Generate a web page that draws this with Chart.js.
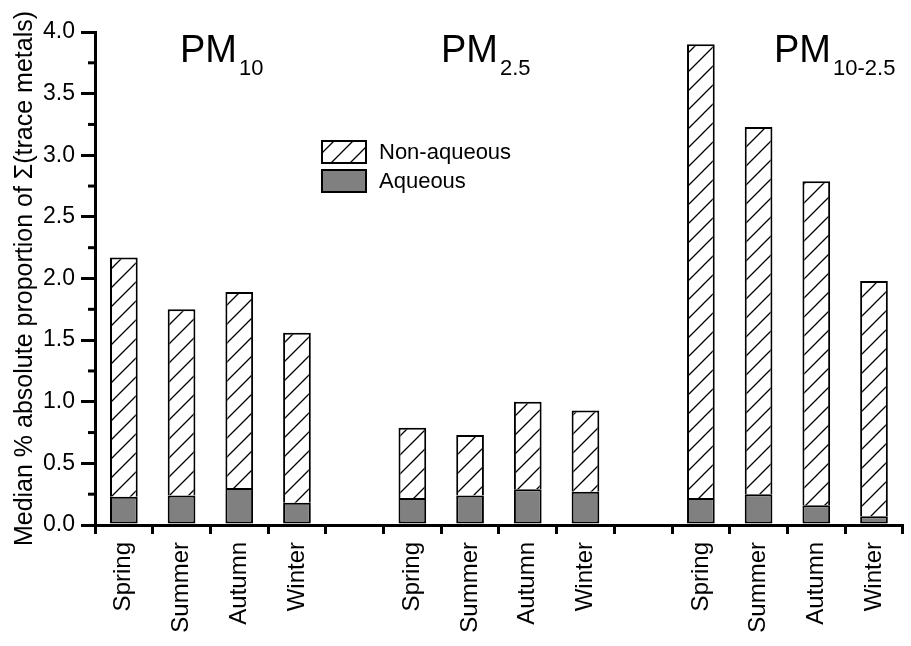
<!DOCTYPE html>
<html>
<head>
<meta charset="utf-8">
<script src="https://cdn.jsdelivr.net/npm/chart.js@4.4.1/dist/chart.umd.min.js"></script>
<style>
  html, body { margin: 0; padding: 0; background: #fff; }
</style>
</head>
<body>
<canvas id="chart" width="911" height="646"></canvas>
<script>
// categories: three size fractions, four seasons each, blank slot between groups
const seasons = ['Spring', 'Summer', 'Autumn', 'Winter'];
const labels = [...seasons, '', ...seasons, '', ...seasons];

// median % absolute proportion, segment values (stacked)
const aqueous    = [0.23, 0.24, 0.30, 0.18, null, 0.22, 0.24, 0.29, 0.27, null, 0.22, 0.25, 0.16, 0.07];
const nonAqueous = [1.94, 1.51, 1.59, 1.38, null, 0.57, 0.49, 0.71, 0.66, null, 3.68, 2.98, 2.63, 1.91];

const groupNames = [['PM', '10'], ['PM', '2.5'], ['PM', '10-2.5']];
const yTicks = [0, 0.5, 1.0, 1.5, 2.0, 2.5, 3.0, 3.5, 4.0];

const FONT = "'Liberation Sans', Arial, sans-serif";
Chart.defaults.font.family = FONT;
Chart.defaults.color = '#000';

const ctx = document.getElementById('chart').getContext('2d');

function makeHatch() {
  const s = 19;
  const c = document.createElement('canvas');
  c.width = s; c.height = s;
  const g = c.getContext('2d');
  g.fillStyle = '#fff';
  g.fillRect(0, 0, s, s);
  g.strokeStyle = '#000';
  g.lineWidth = 1.3;
  g.beginPath();
  g.moveTo(-2, s + 2); g.lineTo(s + 2, -2);
  g.moveTo(-2, 2); g.lineTo(2, -2);
  g.moveTo(s - 2, s + 2); g.lineTo(s + 2, s - 2);
  g.stroke();
  return ctx.createPattern(c, 'repeat');
}
const hatch = makeHatch();

// minor ticks, group titles and the legend
const extras = {
  id: 'extras',
  afterDraw(chart) {
    const c = chart.ctx;
    const y = chart.scales.y;
    c.save();
    c.strokeStyle = '#000';
    c.lineWidth = 3;
    for (let i = 0; i < yTicks.length - 1; i++) {
      const py = y.getPixelForValue((yTicks[i] + yTicks[i + 1]) / 2);
      c.beginPath();
      c.moveTo(y.right - 7, py);
      c.lineTo(y.right, py);
      c.stroke();
    }

    // PM labels
    const starts = [180, 441, 774];
    c.fillStyle = '#000';
    c.textBaseline = 'alphabetic';
    c.textAlign = 'left';
    groupNames.forEach((g, i) => {
      c.font = '38px ' + FONT;
      c.fillText(g[0], starts[i], 62);
      const w = c.measureText(g[0]).width;
      c.font = '22px ' + FONT;
      c.fillText(g[1], starts[i] + w + 2, 75);
    });

    // legend
    const items = [chart.data.datasets[1], chart.data.datasets[0]];
    items.forEach((ds, i) => {
      const bx = 322, by = 141 + i * 29;
      c.fillStyle = ds.backgroundColor;
      c.fillRect(bx, by, 44, 22);
      c.lineWidth = 2;
      c.strokeRect(bx, by, 44, 22);
      c.fillStyle = '#000';
      c.font = '22px ' + FONT;
      c.textBaseline = 'middle';
      c.fillText(ds.label, 379, by + 12);
    });
    c.restore();
  }
};

new Chart(ctx, {
  type: 'bar',
  data: {
    labels: labels,
    datasets: [
      {
        label: 'Aqueous',
        data: aqueous,
        backgroundColor: '#808080',
        borderColor: '#000',
        borderWidth: 2,
        borderSkipped: false
      },
      {
        label: 'Non-aqueous',
        data: nonAqueous,
        backgroundColor: hatch,
        borderColor: '#000',
        borderWidth: { top: 2, left: 2, right: 2, bottom: 0 },
        borderSkipped: false
      }
    ]
  },
  options: {
    responsive: false,
    animation: false,
    layout: { padding: { top: 32, right: 6, left: 0, bottom: 0 } },
    datasets: { bar: { barPercentage: 0.48, categoryPercentage: 1 } },
    plugins: { legend: { display: false }, tooltip: { enabled: false } },
    scales: {
      x: {
        stacked: true,
        afterFit: s => { s.height = 121; },
        border: { display: true, color: '#000', width: 3 },
        grid: { offset: true, drawOnChartArea: false, tickLength: 9, lineWidth: 3, color: '#000' },
        ticks: { autoSkip: false, maxRotation: 90, minRotation: 90, padding: 8, font: { size: 24 } }
      },
      y: {
        stacked: true,
        min: 0,
        max: 4,
        afterFit: s => { s.width = 95; },
        border: { display: true, color: '#000', width: 3 },
        grid: { drawOnChartArea: false, tickLength: 14, lineWidth: 3, color: '#000' },
        ticks: { stepSize: 0.5, padding: 6, font: { size: 23 }, callback: v => v.toFixed(1) },
        title: {
          display: true,
          text: 'Median % absolute proportion of Σ(trace metals)',
          font: { size: 25 },
          padding: { top: 10, bottom: 0 }
        }
      }
    }
  },
  plugins: [extras]
});
</script>
</body>
</html>
